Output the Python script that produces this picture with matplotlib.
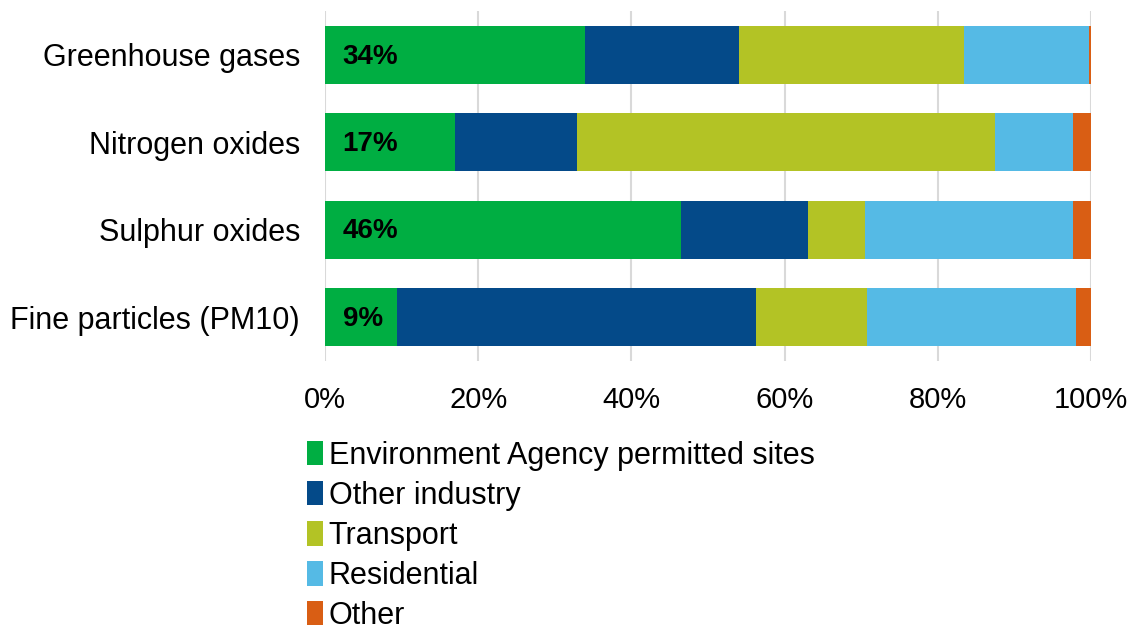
import numpy as np
import matplotlib.pyplot as plt

plt.rcParams['font.family'] = ['Liberation Sans', 'DejaVu Sans']

categories = ["Greenhouse gases", "Nitrogen oxides", "Sulphur oxides", "Fine particles (PM10)"]
sources = ["Environment Agency permitted sites", "Other industry", "Transport", "Residential", "Other"]

# share of emissions by source, %
ea_sites = [34.0, 17.0, 46.5, 9.4]
other_industry = [20.1, 15.9, 16.5, 46.9]
transport = [29.3, 54.6, 7.5, 14.4]
residential = [16.4, 10.1, 27.1, 27.3]
other = [0.2, 2.4, 2.4, 2.0]
label_text = ["34%", "17%", "46%", "9%"]

colors = ["#00AE42", "#044A89", "#B3C325", "#55BAE5", "#D95E14"]

series = [ea_sites, other_industry, transport, residential, other]

fig = plt.figure(figsize=(11.32, 6.25), dpi=100)
ax = fig.add_axes([325 / 1132, 1 - 361 / 625, (1091 - 325) / 1132, 350 / 625])

y = np.arange(len(categories))
left = np.zeros(len(categories))
for vals, name, col in zip(series, sources, colors):
    ax.barh(y, vals, left=left, height=0.66, color=col, label=name, zorder=2)
    left += np.array(vals)

for yi, txt in zip(y, label_text):
    ax.text(2.3, yi + 0.02, txt, ha='left', va='center', fontsize=20, fontweight='bold', color='black', zorder=3)

ax.set_xlim(0, 100)
ax.set_ylim(3.5, -0.5)
ax.set_xticks(np.arange(0, 101, 20))
ax.set_xticklabels([f"{v}%" for v in range(0, 101, 20)])
ax.set_yticks(y)
ax.set_yticklabels(categories)
ax.tick_params(axis='both', length=0, colors='black')
ax.tick_params(axis='x', pad=18, labelsize=21)
ax.tick_params(axis='y', pad=18, labelsize=22)
ax.grid(axis='x', color='#D9D9D9', linewidth=1.5, zorder=0)
for s in ax.spines.values():
    s.set_visible(False)

ax.legend(loc='upper left', bbox_to_anchor=(-30 / 766, -0.193), frameon=False, fontsize=22,
          handlelength=0.5, handleheight=0.85, handletextpad=0.2, labelspacing=0.33,
          borderaxespad=0)

fig.savefig("out.png", dpi=100)
